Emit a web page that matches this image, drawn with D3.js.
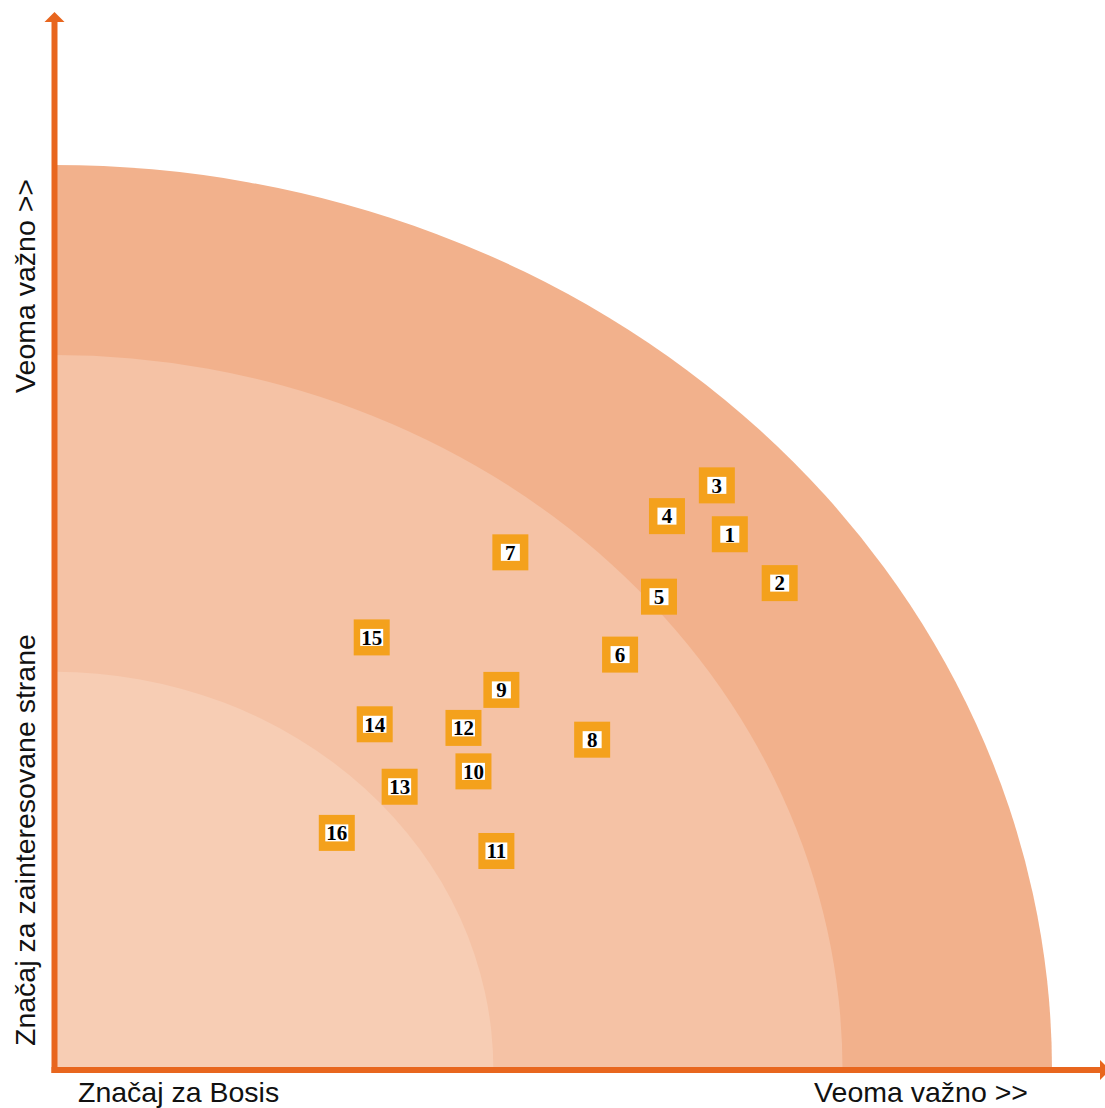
<!DOCTYPE html>
<html>
<head>
<meta charset="utf-8">
<script src="https://cdn.jsdelivr.net/npm/d3@7"></script>
<style>
  html, body { margin: 0; padding: 0; background: #fff; }
  svg { display: block; }
</style>
</head>
<body>
<div id="chart"></div>
<script>
// Teme (id, značaj za Bosis, značaj za zainteresovane strane) - skala 0..10
const topicIds = [1, 2, 3, 4, 5, 6, 7, 8, 9, 10, 11, 12, 13, 14, 15, 16];
const bosisValues = [6.77, 7.27, 6.64, 6.14, 6.06, 5.67, 4.57, 5.39, 4.48, 4.20, 4.43, 4.10, 3.46, 3.21, 3.18, 2.83];
const stakeholderValues = [5.92, 5.38, 6.46, 6.12, 5.23, 4.59, 5.72, 3.65, 4.20, 3.30, 2.42, 3.78, 3.13, 3.82, 4.78, 2.62];

// Zone (poluprečnici četvrtina elipse) i boje
const bandRadii = [10, 7.9, 4.4];
const bandColors = ["#f2b18c", "#f5c2a5", "#f7cdb4"];

const xLabelLeft = "Značaj za Bosis";
const xLabelRight = "Veoma važno >>";
const yLabelBottom = "Značaj za zainteresovane strane";
const yLabelTop = "Veoma važno >>";

const W = 1105, H = 1108;
const origin = { x: 54.5, y: 1070 };
const axisColor = "#e8661e";
const boxColor = "#f4a11c";

const svg = d3.select("#chart").append("svg")
    .attr("width", W)
    .attr("height", H);

const x = d3.scaleLinear().domain([0, 10]).range([origin.x, 1052]);
const y = d3.scaleLinear().domain([0, 10]).range([origin.y, 165]);

// ==================================================
// Zone - četvrtine elipse oko ishodišta
// ==================================================
svg.append("g").selectAll("path")
    .data(bandRadii)
    .join("path")
    .attr("d", r => {
        const rx = x(r) - x(0);
        const ry = y(0) - y(r);
        return `M${x(0)},${y(0)} L${x(r)},${y(0)} A${rx},${ry} 0 0 0 ${x(0)},${y(r)} Z`;
    })
    .attr("fill", (d, i) => bandColors[i]);

// ==================================================
// Ose sa strelicama
// ==================================================
const axes = svg.append("g");
axes.append("line")
    .attr("x1", origin.x).attr("y1", origin.y + 3)
    .attr("x2", origin.x).attr("y2", 20)
    .attr("stroke", axisColor).attr("stroke-width", 6);
axes.append("path")
    .attr("d", `M${origin.x},12 L${origin.x - 10},22 L${origin.x + 10},22 Z`)
    .attr("fill", axisColor);

axes.append("line")
    .attr("x1", origin.x - 3).attr("y1", origin.y)
    .attr("x2", 1100).attr("y2", origin.y)
    .attr("stroke", axisColor).attr("stroke-width", 6);
axes.append("path")
    .attr("d", `M1110,${origin.y} L1100,${origin.y - 10} L1100,${origin.y + 10} Z`)
    .attr("fill", axisColor);

// Natpisi osa
const labelFont = "'Liberation Sans', Arial, sans-serif";
const labelSize = 28.5;
svg.append("text")
    .attr("x", 78).attr("y", 1102)
    .attr("font-family", labelFont).attr("font-size", labelSize)
    .attr("fill", "#111")
    .text(xLabelLeft);
svg.append("text")
    .attr("x", 1028).attr("y", 1102)
    .attr("text-anchor", "end")
    .attr("font-family", labelFont).attr("font-size", labelSize)
    .attr("fill", "#111")
    .text(xLabelRight);
svg.append("text")
    .attr("transform", "translate(35,1046) rotate(-90)")
    .attr("font-family", labelFont).attr("font-size", labelSize)
    .attr("fill", "#111")
    .text(yLabelBottom);
svg.append("text")
    .attr("transform", "translate(35,179) rotate(-90)")
    .attr("text-anchor", "end")
    .attr("font-family", labelFont).attr("font-size", labelSize)
    .attr("fill", "#111")
    .text(yLabelTop);

// ==================================================
// Teme - narandžaste kutije sa brojevima
// ==================================================
const topics = topicIds.map((id, i) => ({ id, bx: bosisValues[i], sy: stakeholderValues[i] }));
const boxSize = 36;

const marks = svg.append("g").selectAll("g")
    .data(topics)
    .join("g")
    .attr("transform", d => `translate(${x(d.bx)},${y(d.sy)})`);

marks.append("rect")
    .attr("x", -boxSize / 2).attr("y", -boxSize / 2)
    .attr("width", boxSize).attr("height", boxSize)
    .attr("fill", boxColor);

const inner = marks.append("rect").attr("fill", "#fff");

const labels = marks.append("text")
    .attr("text-anchor", "middle")
    .attr("dy", "0.35em")
    .attr("font-family", "'Liberation Serif', 'Times New Roman', serif")
    .attr("font-weight", "bold")
    .attr("font-size", 21)
    .attr("fill", "#000")
    .text(d => d.id);

labels.each(function(d, i) {
    const bb = this.getBBox();
    const w = Math.max(19, bb.width + 2);
    d3.select(inner.nodes()[i])
        .attr("x", -w / 2).attr("y", -8.5)
        .attr("width", w).attr("height", 17);
});
</script>
</body>
</html>
